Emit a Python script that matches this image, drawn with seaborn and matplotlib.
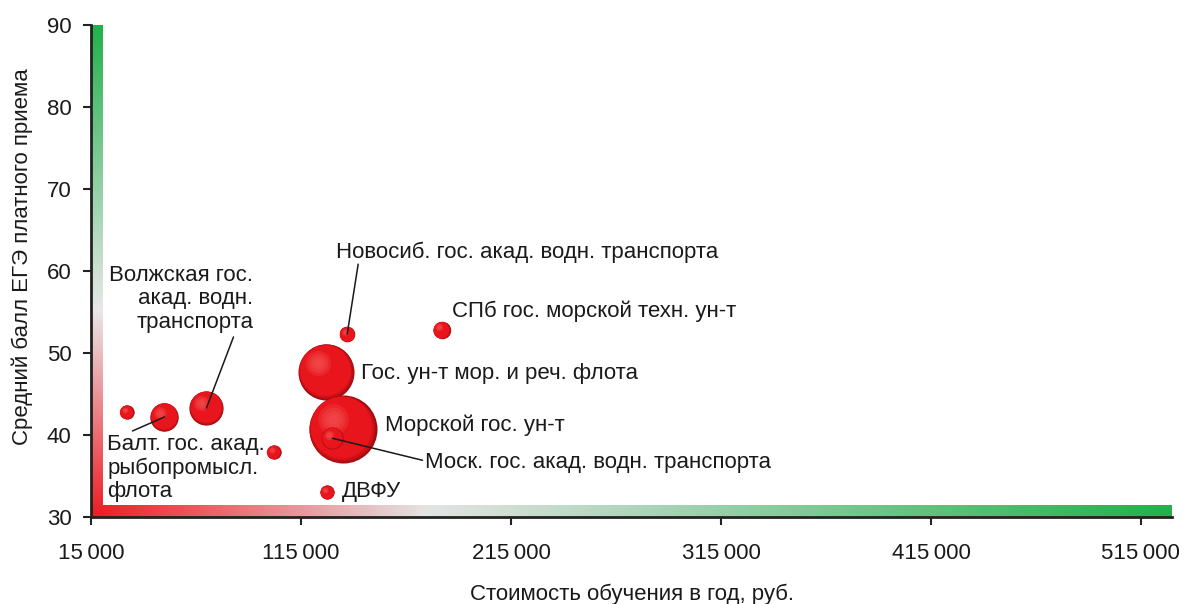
import numpy as np
import matplotlib
matplotlib.use('Agg')
import matplotlib.pyplot as plt
import seaborn as sns
from matplotlib.colors import LinearSegmentedColormap, to_rgb
from matplotlib.transforms import Affine2D

sns.set_theme(style='white')
plt.rcParams['font.family'] = ['Liberation Sans', 'DejaVu Sans']

# data: cost per year (rub), mean USE score, paid intake (bubble area)
names = ['', 'Балт. гос. акад.\nрыбопромысл.\nфлота', 'Волжская гос.\nакад. водн.\nтранспорта', '',
         'ДВФУ', 'Новосиб. гос. акад. водн. транспорта', 'СПб гос. морской техн. ун-т',
         'Гос. ун-т мор. и реч. флота', 'Морской гос. ун-т', 'Моск. гос. акад. водн. транспорта']
cost = [32000, 50000, 70000, 102000, 127500, 137000, 182000, 127000, 135000, 130000]
score = [42.8, 42.2, 43.3, 37.9, 33.0, 52.3, 52.8, 47.7, 40.7, 39.6]
intake = [50, 200, 290, 50, 50, 60, 75, 780, 1150, 120]

x_ticks = [15000, 115000, 215000, 315000, 415000, 515000]
y_ticks = [30, 40, 50, 60, 70, 80, 90]

# label placement (offset pixels from bubble), line start offsets
label_off = [None, (-57, -51), (47, 109), None, (15, 1), (-11, 82), (10, 19), (35, -2), (42, 4), (93, -24)]
label_ha = [None, 'left', 'right', None, 'left', 'left', 'left', 'left', 'left', 'left']
line_off = [None, (-32, -14), (27, 71), None, None, (11, 70), None, None, None, (90, -22)]

RED = '#ed1c24'
GREEN = '#22b14c'
TXT = '#1a1a1a'
FS = 16

fig = plt.figure(figsize=(11.84, 6.04), dpi=100)
ax = fig.add_axes([91 / 1184, 87 / 604, 1081 / 1184, 492 / 604])

# gradient axis bars
cmap_x = LinearSegmentedColormap.from_list('gx', [(0, RED), (0.31, '#e4e4e4'), (1, GREEN)])
cmap_y = LinearSegmentedColormap.from_list('gy', [(0, RED), (0.42, '#e8e8e8'), (1, GREEN)])
grad = np.linspace(0, 1, 256)
ax.imshow(grad[np.newaxis, :], cmap=cmap_x, aspect='auto', transform=ax.transAxes,
          extent=(0, 1, 0, 12 / 492), zorder=1)
ax.imshow(grad[:, np.newaxis], cmap=cmap_y, aspect='auto', transform=ax.transAxes,
          extent=(0, 12 / 1081, 0, 1), origin='lower', zorder=1)
ax.set_xlim(15000, 529800)
ax.set_ylim(30, 90)

# bubbles, shaded like spheres
s_max = 2400
base = np.array(to_rgb('#a00c10'))
mid = np.array(to_rgb('#e8151c'))
hi = np.array(to_rgb('#f45a5a'))
n_layers = 8
for i in range(len(cost)):
    s = intake[i] / max(intake) * s_max
    r = np.sqrt(s) / 2 * 100 / 72
    for k in range(n_layers):
        f = 1 - 0.22 * k / (n_layers - 1)
        c = base + (mid - base) * min(1, k / 3)
        sns.scatterplot(x=[cost[i]], y=[score[i]], s=s * f * f, color=c, linewidth=0, ax=ax,
                        zorder=10 + i * 20 + k,
                        transform=ax.transData + Affine2D().translate(-r * (1 - f) * 0.6, r * (1 - f) * 0.6))
    for k in range(4):
        f = 0.45 - 0.1 * k
        sns.scatterplot(x=[cost[i]], y=[score[i]], s=s * f * f, color=hi, alpha=0.25, linewidth=0, ax=ax,
                        zorder=10 + i * 20 + n_layers + k,
                        transform=ax.transData + Affine2D().translate(-r * 0.3, r * 0.3))

# labels and leader lines
for i in range(len(cost)):
    if label_off[i] is None:
        continue
    ax.annotate(names[i], xy=(cost[i], score[i]), xytext=label_off[i], textcoords='offset pixels',
                ha=label_ha[i], va='center', multialignment=label_ha[i], fontsize=FS,
                color=TXT, zorder=300, linespacing=1.15)
    if line_off[i] is not None:
        ax.annotate('', xy=(cost[i], score[i]), xytext=line_off[i], textcoords='offset pixels',
                    arrowprops=dict(arrowstyle='-', color=TXT, lw=1.1, shrinkA=0, shrinkB=0),
                    zorder=300)

ax.set_xticks(x_ticks)
ax.set_xticklabels([f'{v:,}'.replace(',', '\u2009') for v in x_ticks])
ax.set_yticks(y_ticks)
ax.tick_params(axis='both', direction='out', length=6, width=1.5, color='#222222',
               labelsize=FS, labelcolor=TXT, bottom=True, left=True)
ax.tick_params(axis='x', pad=13)
ax.tick_params(axis='y', pad=8)
sns.despine(ax=ax)
for sp in ['left', 'bottom']:
    ax.spines[sp].set_color('#222222')
    ax.spines[sp].set_linewidth(2)
    ax.spines[sp].set_zorder(5)
ax.set_xlabel('Стоимость обучения в год, руб.', fontsize=FS, color=TXT, labelpad=14)
ax.set_ylabel('Средний балл ЕГЭ платного приема', fontsize=FS, color=TXT, labelpad=10, y=0.53)

fig.savefig('out.png', dpi=100)
